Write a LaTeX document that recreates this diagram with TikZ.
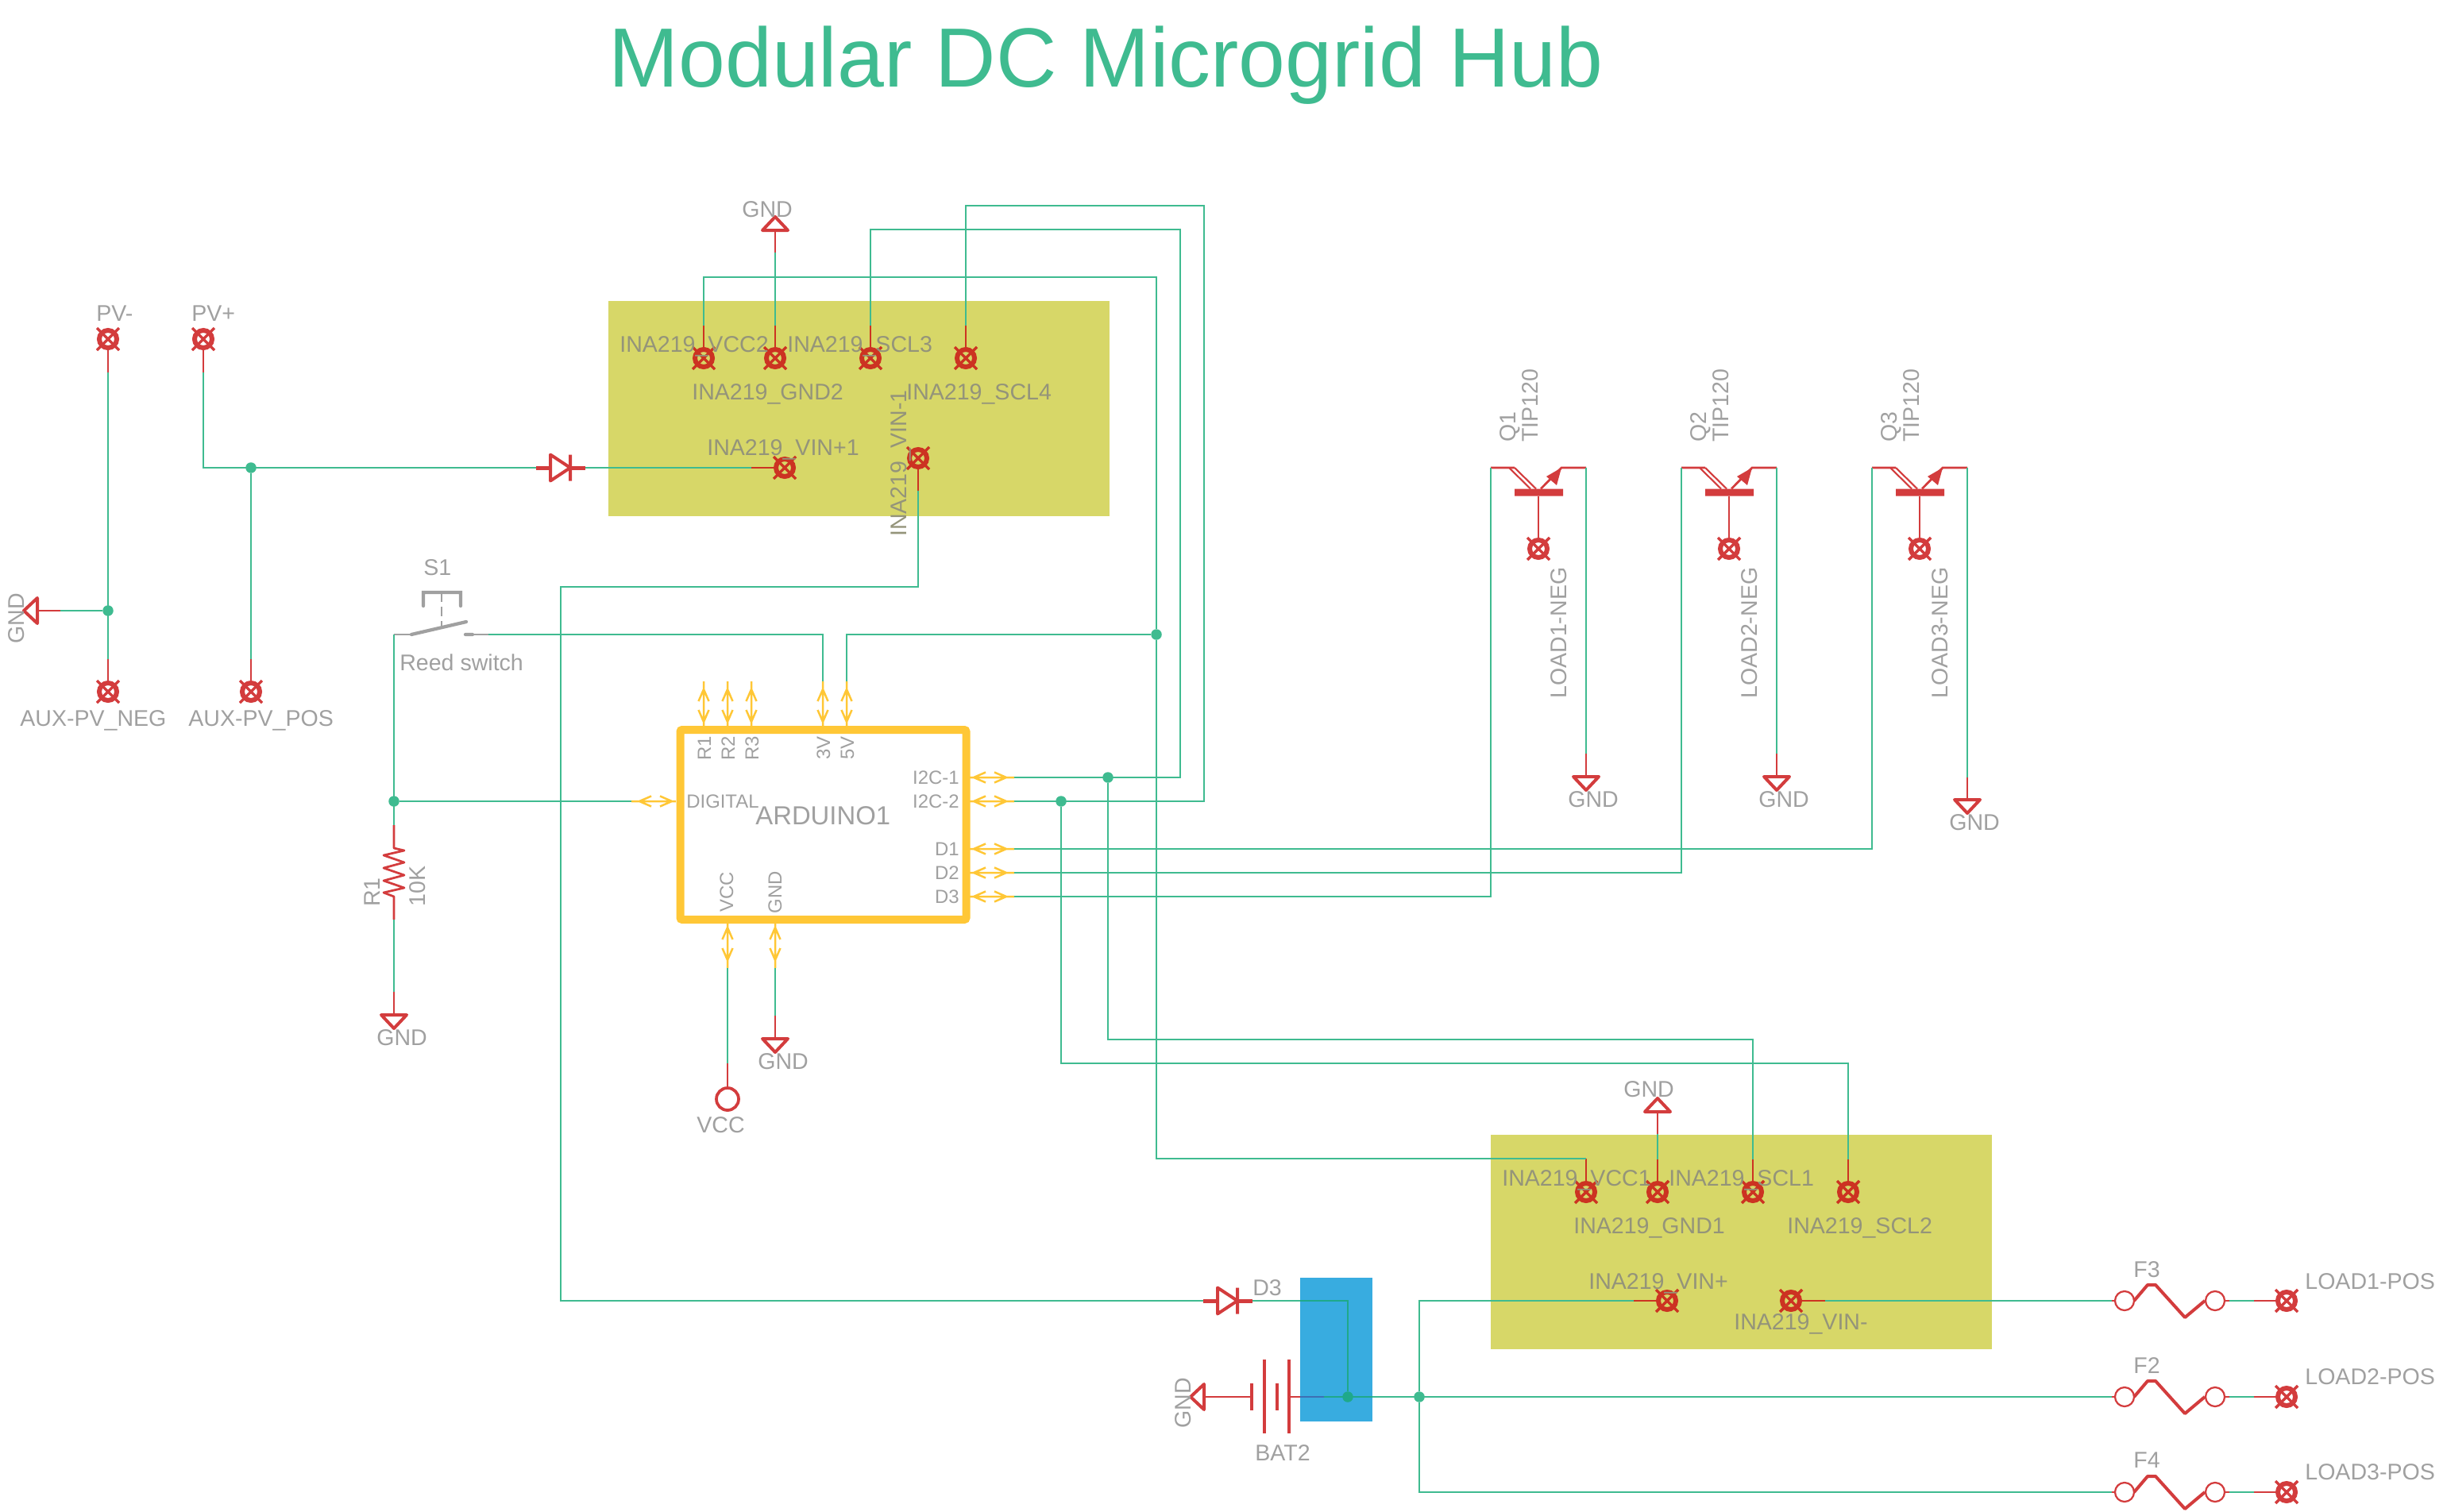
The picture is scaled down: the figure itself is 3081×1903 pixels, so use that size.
\documentclass[tikz,border=0pt]{standalone}
\usepackage{fontspec}
\setmainfont{Liberation Sans}
\definecolor{wirecol}{HTML}{3FBB90}
\definecolor{wireblue}{HTML}{1FA98A}
\definecolor{redcol}{HTML}{D33C3D}
\definecolor{redin}{HTML}{CC3322}
\definecolor{redblue}{HTML}{3D70B4}
\definecolor{labcol}{HTML}{A0A0A0}
\definecolor{labin}{HTML}{94947A}
\definecolor{inabox}{HTML}{D7D768}
\definecolor{bluebox}{HTML}{38ACE0}
\definecolor{ardcol}{HTML}{FFC736}

\begin{document}
\begin{tikzpicture}[x=0.2mm,y=-0.2mm,
wire/.style={line width=0.55mm,draw=wirecol},stub/.style={line width=0.55mm,draw=redcol},stubin/.style={line width=0.55mm,draw=redin},
sym/.style={line width=0.8mm,draw=redcol,line join=round},
junct/.style={circle,fill=wirecol,inner sep=0pt,minimum size=2.7mm},
pad/.style={circle,draw=#1,line width=1.2mm,minimum size=4.4mm,inner sep=0pt,append after command={([shift={(-14,-14)}]\tikzlastnode.center) edge[draw=#1,line width=0.7mm] ([shift={(14,14)}]\tikzlastnode.center) ([shift={(-14,14)}]\tikzlastnode.center) edge[draw=#1,line width=0.7mm] ([shift={(14,-14)}]\tikzlastnode.center)}},pad/.default=redcol,
lab/.style={inner sep=0pt,text=labcol,font=\fontsize{16.25}{18}\selectfont,anchor=base west},labi/.style={lab,text=labin},
vlab/.style={lab,rotate=90},
pinlab/.style={lab,font=\fontsize{13.6}{15}\selectfont,anchor=base east},vpinlab/.style={pinlab,rotate=90},
ardbox/.style={rectangle,draw=ardcol,line width=2mm,rounded corners=0.5mm,minimum width=72mm,minimum height=47.8mm,inner sep=0pt},
pics/pinpair/.style={code={
  \draw[draw=ardcol,line width=0.5mm] (0,0) -- (56,0) (20,-6.5) -- (5,0) -- (20,6.5) (31,-6.5) -- (46,0) -- (31,6.5);
  \coordinate (-o) at (56,0);}},
pics/gndsym/.style={code={
  \draw[sym] (-16,0) -- (16,0) -- (0,17) -- cycle;
  \coordinate (-t) at (0,0);}},
pics/diodesym/.style={code={
  \draw[sym,line width=1mm] (0,0) -- (18,0) (43,0) -- (62,0);
  \draw[sym] (18,-16.5) -- (18,16.5) -- (43,0) -- cycle (43,-16.5) -- (43,16.5);
  \coordinate (-a) at (0,0); \coordinate (-k) at (62,0);}},
pics/tipsym/.style={code={
  \draw[stub] (-60,0) -- (-30,0) (3,26.5) -- (29,0) -- (60,0);
  \draw[stub,line width=0.42mm] (-37,0) -- (-10,26.5) (-30,0) -- (-3,26.5);
  \fill[redcol] (-30,26.5) rectangle (31,35.5) (29,0) -- (10,11) -- (23,22) -- cycle;
  \coordinate (-c) at (-60,0); \coordinate (-e) at (60,0); \coordinate (-b) at (0,35.5);}},
pics/fusesym/.style={code={
  \draw[stub] (0,0) -- (4,0) (142,0) -- (148,0);
  \draw[stub,line width=0.45mm] (16,0) circle (12) (130,0) circle (12);
  \draw[sym] (28,0) -- (45,-20) -- (55,-20) -- (92,21) -- (117,0);
  \coordinate (-a) at (0,0); \coordinate (-b) at (148,0);}}
]
\useasboundingbox (0,0) rectangle (3081,1903);

\node(title)[lab,text=wirecol,font=\fontsize{60.2}{62}\selectfont] at (766,109){Modular DC Microgrid Hub};

% boards and battery holder
\fill[inabox] (766,379) rectangle (1397,650);
\fill[inabox] (1877,1429) rectangle (2508,1699);
\node(blue)[rectangle,fill=bluebox,minimum width=18.2mm,minimum height=36.2mm,inner sep=0pt] at (1682.5,1699){};

% pads
\node(pvn)[pad] at (136,427){};
\node(pvp)[pad] at (256,427){};
\node(auxn)[pad] at (136,871){};
\node(auxp)[pad] at (316,871){};
\node(vcca)[pad=redin] at (886,451){};
\node(gnda)[pad=redin] at (976,451){};
\node(scla)[pad=redin] at (1096,451){};
\node(sclb)[pad=redin] at (1216,451){};
\node(vinpa)[pad=redin] at (988,589){};
\node(vinna)[pad=redin] at (1156,577){};
\node(vccb)[pad=redin] at (1997,1501){};
\node(gndb)[pad=redin] at (2087,1501){};
\node(sclc)[pad=redin] at (2207,1501){};
\node(scld)[pad=redin] at (2327,1501){};
\node(vinpb)[pad=redin] at (2099,1638){};
\node(vinnb)[pad=redin] at (2255,1638){};
\node(neg1)[pad] at (1937,691){};
\node(neg2)[pad] at (2177,691){};
\node(neg3)[pad] at (2417,691){};
\node(pos1)[pad] at (2879,1638){};
\node(pos2)[pad] at (2879,1759){};
\node(pos3)[pad] at (2879,1879){};
\node(vccsym)[circle,draw=redcol,line width=0.75mm,minimum size=5.6mm,inner sep=0pt] at (916,1384){};

% junctions
\node(jpvn)[junct] at (136,769){};
\node(jpvp)[junct] at (316,589){};
\node(jdig)[junct] at (496,1009){};
\node(jfv)[junct] at (1456,799){};
\node(jia)[junct] at (1395,979){};
\node(jib)[junct] at (1336,1009){};
\node(jbat)[junct] at (1787,1759){};

% arduino
\node(ard)[ardbox] at (1036.5,1038.5){};
\pic (pr1) [rotate=90] at (886,914) {pinpair};
\pic (pr2) [rotate=90] at (916,914) {pinpair};
\pic (pr3) [rotate=90] at (946,914) {pinpair};
\pic (p3v) [rotate=90] at (1036,914) {pinpair};
\pic (p5v) [rotate=90] at (1066,914) {pinpair};
\pic (pi1) at (1221,979) {pinpair};
\pic (pi2) at (1221,1009) {pinpair};
\pic (pd1) at (1221,1069) {pinpair};
\pic (pd2) at (1221,1099) {pinpair};
\pic (pd3) at (1221,1129) {pinpair};
\pic (pdg) [rotate=180] at (851,1009) {pinpair};
\pic (pvc) [rotate=-90] at (916,1163) {pinpair};
\pic (pgn) [rotate=-90] at (976,1163) {pinpair};

% symbols
\pic (g1) [rotate=-90] at (47,769) {gndsym};
\pic (g2) [rotate=180] at (976,290) {gndsym};
\pic (g3) at (496,1278) {gndsym};
\pic (g4) at (976,1308) {gndsym};
\pic (g5) at (1997,978) {gndsym};
\pic (g6) at (2237,978) {gndsym};
\pic (g7) at (2477,1007) {gndsym};
\pic (g8) [rotate=180] at (2087,1400) {gndsym};
\pic (g9) [rotate=-90] at (1516,1759) {gndsym};
\pic (d1) at (675,589) {diodesym};
\pic (d3) at (1515,1638) {diodesym};
\pic (q1) at (1937,589) {tipsym};
\pic (q2) at (2177,589) {tipsym};
\pic (q3) at (2417,589) {tipsym};
\pic (f3) at (2659,1638) {fusesym};
\pic (f2) at (2659,1759) {fusesym};
\pic (f4) at (2659,1879) {fusesym};

% switch
\coordinate(swa) at (496,799);
\coordinate(swb) at (615,799);
\draw[draw=labcol,line width=0.5mm] (swa) -- (518,799) (595,799) -- (swb);
\draw[draw=labcol,line width=0.85mm,line cap=round] (518,799) -- (587,783) (586,799) -- (595,799) (533,763) -- (533,746) -- (580,746) -- (580,763);
\draw[draw=labcol,line width=0.45mm,dash pattern=on 2.4mm off 1.2mm] (556,746) -- (556,791);

% resistor
\coordinate(ra) at (496,1039);
\coordinate(rb) at (496,1158);
\draw[stub,line join=round] (ra) -- (496,1068) -- (509,1071) -- (483,1077) -- (509,1086) -- (483,1093) -- (509,1102) -- (483,1109) -- (509,1118) -- (483,1124) -- (496,1129) -- (rb);

% battery
\coordinate(bata) at (1576,1759);
\coordinate(batb) at (1623,1759);
\draw[draw=redcol,line width=0.8mm] (1576,1742) -- (1576,1776) (1592,1712) -- (1592,1805) (1608,1742) -- (1608,1776) (1623,1712) -- (1623,1805);

% red pin ends
\draw [stub] (pvn) -- ++(0,42) coordinate(pvns);
\draw [stub] (pvp) -- ++(0,42) coordinate(pvps);
\draw [stub] (auxn) -- ++(0,-41) coordinate(auxns);
\draw [stub] (auxp) -- ++(0,-41) coordinate(auxps);
\draw [stub] (g1-t) -- (76,769) coordinate(g1s);
\draw [stub] (g2-t) -- ++(0,28) coordinate(g2s);
\draw [stub] (g3-t) -- ++(0,-29) coordinate(g3s);
\draw [stub] (g4-t) -- ++(0,-29) coordinate(g4s);
\draw [stub] (g5-t) -- ++(0,-29) coordinate(g5s);
\draw [stub] (g6-t) -- ++(0,-29) coordinate(g6s);
\draw [stub] (g7-t) -- ++(0,-28) coordinate(g7s);
\draw [stub] (g8-t) -- ++(0,28) coordinate(g8s);
\draw [stub] (g9-t) -- (bata);
\draw [stub] (vccsym) -- ++(0,-45) coordinate(vcs);
\draw [stubin] (vcca) -- ++(0,-41) coordinate(vas);
\draw [stubin] (gnda) -- ++(0,-41) coordinate(gas);
\draw [stubin] (scla) -- ++(0,-41) coordinate(sas);
\draw [stubin] (sclb) -- ++(0,-41) coordinate(sbs);
\draw [stubin] (vinpa) -- ++(-42,0) coordinate(pas);
\draw [stubin] (vinna) -- ++(0,41) coordinate(nas);
\draw [stubin] (vccb) -- ++(0,-42) coordinate(vbs);
\draw [stubin] (gndb) -- ++(0,-41) coordinate(gbs);
\draw [stubin] (sclc) -- ++(0,-41) coordinate(scs);
\draw [stubin] (scld) -- ++(0,-41) coordinate(sds);
\draw [stubin] (vinpb) -- ++(-42,0) coordinate(pbs);
\draw [stubin] (vinnb) -- ++(43,0) coordinate(nbs);
\draw [stub] (pos1) -- ++(-41,0) coordinate(p1s);
\draw [stub] (pos2) -- ++(-41,0) coordinate(p2s);
\draw [stub] (pos3) -- ++(-41,0) coordinate(p3s);
\draw [stub] (q1-b) -- (neg1);
\draw [stub] (q2-b) -- (neg2);
\draw [stub] (q3-b) -- (neg3);
\draw [stub] (batb) -- (blue.west |- batb);
\draw [stub,draw=redblue] (blue.west |- batb) -- (1667,1759) coordinate(bate);

% wires
\coordinate(topa) at (1456,349);
\coordinate(topb) at (1486,289);
\coordinate(topc) at (1516,259);
\coordinate(lowa) at (1395,1309);
\coordinate(lowb) at (1336,1339);
\coordinate(vinj) at (706,739);
\draw [wire] (pvns) to (auxns);
\draw [wire] (g1s) to (jpvn);
\draw [wire] (pvps) |- (d1-a);
\draw [wire] (jpvp) to (auxps);
\draw [wire] (d1-k) to (pas);
\draw [wire] (g2s) to (gas);
\draw [wire] (vas) |- (topa) -- (jfv);
\draw [wire] (pi1-o) -| (topb) -| (sas);
\draw [wire] (pi2-o) -| (topc) -| (sbs);
\draw [wire] (nas) |- (vinj) |- (d3-a);
\draw [wire] (swa) to (ra);
\draw [wire] (jdig) to (pdg-o);
\draw [wire] (swb) -| (p3v-o);
\draw [wire] (p5v-o) |- (jfv);
\draw [wire] (rb) to (g3s);
\draw [wire] (pvc-o) to (vcs);
\draw [wire] (pgn-o) to (g4s);
\draw [wire] (pd1-o) -| (q3-c);
\draw [wire] (pd2-o) -| (q2-c);
\draw [wire] (pd3-o) -| (q1-c);
\draw [wire] (q1-e) to (g5s);
\draw [wire] (q2-e) to (g6s);
\draw [wire] (q3-e) to (g7s);
\draw [wire] (jfv) |- (vbs);
\draw [wire] (jia) -- (lowa) -| (scs);
\draw [wire] (jib) -- (lowb) -| (sds);
\draw [wire] (g8s) to (gbs);
\draw [wire] (pbs) -| (jbat);
\draw [wire] (jbat) |- (f4-a);
\draw [wire] (nbs) to (f3-a);
\draw [wire] (bate) to (f2-a);
\draw [wire] (f3-b) to (p1s);
\draw [wire] (f2-b) to (p2s);
\draw [wire] (f4-b) to (p3s);
% the same wires where they lie on the battery holder
\node(jbox)[junct,fill=wireblue] at (1697,1759){};
\draw [wire,draw=wireblue] (d3-k -| blue.west) -| (jbox);
\draw [wire,draw=wireblue] (bate) -- (blue.east |- bate);
\draw [wire] (d3-k) -- (d3-k -| blue.west);

% labels
\node(lpvn)[lab] at (121,404){PV-};
\node(lpvp)[lab] at (241,404){PV+};
\node(lauxn)[lab] at (25,914){AUX-PV\_NEG};
\node(lauxp)[lab] at (237,914){AUX-PV\_POS};
\node(lg1)[vlab] at (30,811){GND};
\node(lg2)[lab] at (934,273){GND};
\node(lg3)[lab] at (474,1316){GND};
\node(lg4)[lab] at (954,1346){GND};
\node(lg5)[lab] at (1974,1016){GND};
\node(lg6)[lab] at (2214,1016){GND};
\node(lg7)[lab] at (2454,1045){GND};
\node(lg8)[lab] at (2044,1381){GND};
\node(lg9)[vlab] at (1499,1799){GND};
\node(ls1)[lab] at (533,724){S1};
\node(lreed)[lab] at (503,844){Reed switch};
\node(lr1)[vlab] at (478,1142){R1};
\node(lrv)[vlab] at (535,1142){10K};
\node(lvcc)[lab] at (877,1426){VCC};
\node(lbat)[lab] at (1580,1839){BAT2};
\node(ld3)[lab] at (1577,1631){D3};
\node(lvcca)[labi] at (780,443){INA219\_VCC2};
\node(lscla)[labi] at (991,443){INA219\_SCL3};
\node(lgnda)[labi] at (871,503){INA219\_GND2};
\node(lsclb)[labi] at (1141,503){INA219\_SCL4};
\node(lvipa)[labi] at (890,573){INA219\_VIN+1};
\node(lvina)[vlab,text=labin] at (1141.5,676){INA219\_VIN-1};
\node(lvccb)[labi] at (1891,1493){INA219\_VCC1};
\node(lsclc)[labi] at (2101,1493){INA219\_SCL1};
\node(lgndb)[labi] at (1981,1553){INA219\_GND1};
\node(lscld)[labi] at (2250,1553){INA219\_SCL2};
\node(lvipb)[labi] at (2000,1623){INA219\_VIN+};
\node(lvinb)[labi] at (2183,1674){INA219\_VIN-};
\node(lq1)[vlab] at (1908,557){Q1};
\node(lq2)[vlab] at (2148,557){Q2};
\node(lq3)[vlab] at (2388,557){Q3};
\node(lta)[vlab] at (1936,557){TIP120};
\node(ltb)[vlab] at (2176,557){TIP120};
\node(ltc)[vlab] at (2416,557){TIP120};
\node(lna)[vlab] at (1972,880){LOAD1-NEG};
\node(lnb)[vlab] at (2212,880){LOAD2-NEG};
\node(lnc)[vlab] at (2452,880){LOAD3-NEG};
\node(lf3)[lab] at (2686,1608){F3};
\node(lf2)[lab] at (2686,1729){F2};
\node(lf4)[lab] at (2686,1848){F4};
\node(lpa)[lab] at (2902,1623){LOAD1-POS};
\node(lpb)[lab] at (2902,1743){LOAD2-POS};
\node(lpc)[lab] at (2902,1863){LOAD3-POS};

% arduino text
\node(lard)[lab,font=\fontsize{18.7}{20}\selectfont] at (951,1038){ARDUINO1};
\node(ldig)[pinlab,anchor=base west] at (864,1017){DIGITAL};
\node(lia)[pinlab] at (1208,987){I2C-1};
\node(lib)[pinlab] at (1208,1017){I2C-2};
\node(lda)[pinlab] at (1208,1077){D1};
\node(ldb)[pinlab] at (1208,1107){D2};
\node(ldc)[pinlab] at (1208,1137){D3};
\node(lra)[vpinlab] at (895,927){R1};
\node(lrb)[vpinlab] at (925,927){R2};
\node(lrc)[vpinlab] at (955,927){R3};
\node(lv3)[vpinlab] at (1045,927){3V};
\node(lv5)[vpinlab] at (1075,927){5V};
\node(lvc)[vpinlab] at (923,1098){VCC};
\node(lgn)[vpinlab] at (984,1097){GND};
\end{tikzpicture}
\end{document}
